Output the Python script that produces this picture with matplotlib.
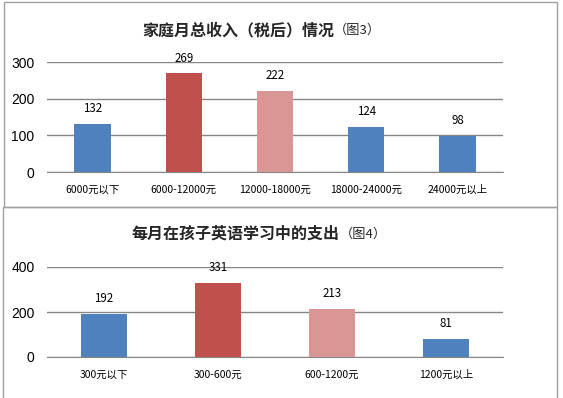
import matplotlib
matplotlib.use('Agg')
import matplotlib.pyplot as plt
from matplotlib.patches import Rectangle

plt.rcParams['font.family'] = ['Noto Sans CJK SC', 'DejaVu Sans']

# 图3 数据
cat3 = ['6000元以下', '6000-12000元', '12000-18000元', '18000-24000元', '24000元以上']
val3 = [132, 269, 222, 124, 98]
# 图4 数据
cat4 = ['300元以下', '300-600元', '600-1200元', '1200元以上']
val4 = [192, 331, 213, 81]

blue = '#4F81BD'
red = '#C0504D'
pink = '#D99694'
grid = '#868686'
col3 = [blue, red, pink, blue, blue]
col4 = [blue, red, pink, blue]

fig = plt.figure(figsize=(5.63, 3.98), dpi=100)
W, H = 563, 398


def fx(x):
    return x / W


def fy(y):
    return 1 - y / H


# 外框
fig.patches.append(Rectangle((fx(4), fy(207)), fx(553), 205 / H, transform=fig.transFigure,
                             fill=False, ec='#A0A0A0', lw=1))
fig.patches.append(Rectangle((fx(3), fy(400)), fx(554), 193 / H, transform=fig.transFigure,
                             fill=False, ec='#A0A0A0', lw=1))


def draw(ax, cats, vals, cols, top, step, width, off):
    x = range(len(cats))
    bars = ax.bar(x, vals, width=width, color=cols, zorder=3)
    for b, v in zip(bars, vals):
        ax.annotate(str(v), (b.get_x() + b.get_width() / 2, v), xytext=(0, off),
                    textcoords='offset points', ha='center', va='center',
                    fontsize=8.3, color='#000000')
    ax.set_ylim(0, top)
    ax.set_xlim(-0.5, len(cats) - 0.5)
    ax.set_yticks(range(0, top + 1, step))
    ax.set_yticklabels([str(t) for t in range(0, top + 1, step)], fontsize=10,
                       family='Liberation Sans')
    ax.set_xticks(list(x))
    ax.set_xticklabels(cats, fontsize=7.5)
    ax.yaxis.grid(True, color=grid, lw=1, zorder=0)
    for s in ['left', 'right', 'top']:
        ax.spines[s].set_visible(False)
    ax.spines['bottom'].set_color(grid)
    ax.tick_params(length=0)
    ax.tick_params(axis='y', pad=9)
    ax.tick_params(axis='x', pad=9)


ax1 = fig.add_axes([fx(47), fy(172), fx(456), 110 / H])
draw(ax1, cat3, val3, col3, 300, 100, 0.4, 11)

ax2 = fig.add_axes([fx(47), fy(357), fx(456), 90 / H])
draw(ax2, cat4, val4, col4, 400, 200, 0.4, 11)

# 标题
fig.text(fx(334), fy(30), '家庭月总收入（税后）情况', ha='right', va='center',
         fontsize=11.5, fontweight='bold', color='#262626')
fig.text(fx(334), fy(30), '（图3）', ha='left', va='center', fontsize=9.5, color='#262626')
fig.text(fx(340), fy(234), '每月在孩子英语学习中的支出', ha='right', va='center',
         fontsize=11.5, fontweight='bold', color='#262626')
fig.text(fx(340), fy(234), '（图4）', ha='left', va='center', fontsize=9.5, color='#262626')

fig.savefig('out.png', dpi=100)
